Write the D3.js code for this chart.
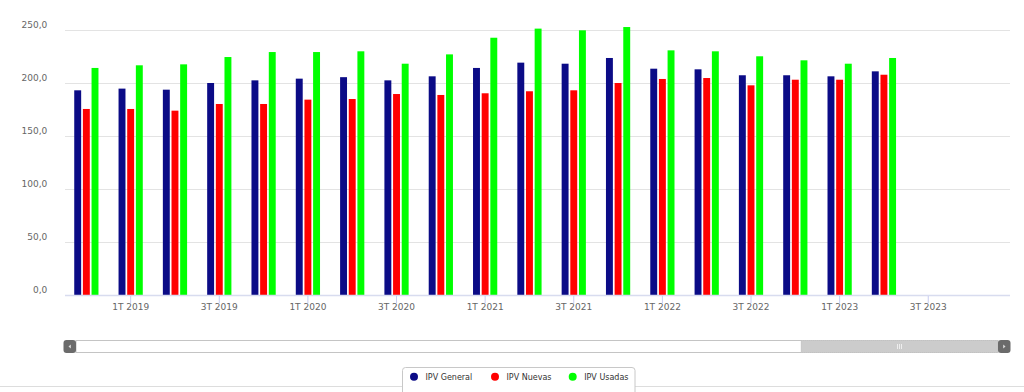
<!DOCTYPE html>
<html><head><meta charset="utf-8">
<script src="https://cdn.jsdelivr.net/npm/d3@7"></script>
<style>html,body{margin:0;padding:0;background:#fff;}svg{display:block;}</style>
</head><body>
<svg id="chart" width="1024" height="392"></svg>
<script>
const categories = ["4T 2018","1T 2019","2T 2019","3T 2019","4T 2019","1T 2020","2T 2020","3T 2020","4T 2020","1T 2021","2T 2021","3T 2021","4T 2021","1T 2022","2T 2022","3T 2022","4T 2022","1T 2023","2T 2023","3T 2023"];
const ipvGeneral = [193.1,194.7,193.7,200.0,202.5,204.1,205.5,202.5,206.3,214.2,219.2,218.2,223.6,213.5,212.9,207.3,207.3,206.3,211.0];
const ipvNuevas  = [175.5,175.5,173.9,180.2,180.2,184.3,184.9,189.6,188.7,190.3,192.2,193.1,200.0,203.8,204.7,197.8,203.1,203.1,207.8];
const ipvUsadas  = [214.2,216.7,217.6,224.5,229.2,229.2,229.9,218.2,227.0,242.7,251.3,249.7,252.8,230.8,229.9,225.2,221.4,218.2,223.6];
const seriesNames = ["IPV General","IPV Nuevas","IPV Usadas"];
const seriesColors = ["#0b0b86","#ff0000","#00ff00"];
const yTicks = [0,50,100,150,200,250];
const xTickLabels = ["1T 2019","3T 2019","1T 2020","3T 2020","1T 2021","3T 2021","1T 2022","3T 2022","1T 2023","3T 2023"];

const seriesData = [ipvGeneral, ipvNuevas, ipvUsadas];
const svg = d3.select("#chart");
const font = "'DejaVu Sans', Verdana, sans-serif";

const plotLeft = 65, plotRight = 1010, plotTop = 30, plotBottom = 295;
const bandStep = 44.31, bandStart = 64.2;

const y = d3.scaleLinear().domain([0,250]).range([plotBottom, plotTop]);
const x0 = d3.scaleBand().domain(categories).range([bandStart, bandStart + bandStep*categories.length]).padding(0);
const x1 = d3.scaleBand().domain(seriesNames).range([x0.bandwidth()*0.207, x0.bandwidth()*0.793]).paddingInner(0.2).paddingOuter(0.1);

// gridlines
svg.append("g").selectAll("line").data(yTicks.filter(d=>d>0)).join("line")
  .attr("x1", plotLeft).attr("x2", plotRight)
  .attr("y1", d=>Math.round(y(d))+0.5).attr("y2", d=>Math.round(y(d))+0.5)
  .attr("stroke", "#e3e3e3").attr("stroke-width", 1);

// y labels
const fmt = d3.format(".1f");
svg.append("g").selectAll("text").data(yTicks).join("text")
  .attr("x", 47.3).attr("y", d=>y(d)-1.7)
  .attr("text-anchor","end")
  .attr("font-family", font).attr("font-size", 9).attr("fill", "#666")
  .text(d=>fmt(d).replace(".", ","));

// bars
const groups = svg.append("g").selectAll("g").data(categories.slice(0, ipvGeneral.length)).join("g")
  .attr("transform", d=>`translate(${x0(d)},0)`);
groups.selectAll("rect").data((d,i)=>seriesNames.map((s,j)=>({s, v: seriesData[j][i], c: seriesColors[j]}))).join("rect")
  .attr("x", d=>x1(d.s)).attr("width", x1.bandwidth())
  .attr("y", d=>y(d.v)).attr("height", d=>y(0)-y(d.v))
  .attr("fill", d=>d.c);

// x axis line
svg.append("line").attr("x1", plotLeft).attr("x2", plotRight)
  .attr("y1", plotBottom+0.5).attr("y2", plotBottom+0.5)
  .attr("stroke", "#d8dcef").attr("stroke-width", 1.5);

// ticks and labels
const xt = svg.append("g");
xt.selectAll("line").data(xTickLabels).join("line")
  .attr("x1", d=>x0(d)+x0.bandwidth()/2).attr("x2", d=>x0(d)+x0.bandwidth()/2)
  .attr("y1", plotBottom+1).attr("y2", plotBottom+8)
  .attr("stroke", "#c8ccf0").attr("stroke-width", 1);
xt.selectAll("text").data(xTickLabels).join("text")
  .attr("x", d=>x0(d)+x0.bandwidth()/2).attr("y", 310)
  .attr("text-anchor","middle")
  .attr("font-family", font).attr("font-size", 9).attr("fill", "#666")
  .text(d=>d);

// scrollbar
const sb = svg.append("g");
sb.append("rect").attr("x", 76).attr("y", 340.5).attr("width", 922).attr("height", 12)
  .attr("fill", "#fff").attr("stroke", "#c4c4c4").attr("stroke-width", 1);
sb.append("rect").attr("x", 801).attr("y", 340.5).attr("width", 197).attr("height", 12)
  .attr("fill", "#cccccc").attr("stroke", "#bdbdbd").attr("stroke-width", 0.6).attr("stroke-dasharray","1,1");
[-2,0,2].forEach(o=>{
  sb.append("line").attr("x1", 899.5+o).attr("x2", 899.5+o).attr("y1", 344).attr("y2", 349)
    .attr("stroke", "#eeeeee").attr("stroke-width", 1);
});
sb.append("rect").attr("x", 63.5).attr("y", 340).attr("width", 12.5).attr("height", 13).attr("rx", 3)
  .attr("fill", "#6b6b6b");
sb.append("rect").attr("x", 998).attr("y", 340).attr("width", 12.5).attr("height", 13).attr("rx", 3)
  .attr("fill", "#6b6b6b");
sb.append("path").attr("d", "M70.8,344.5 L68.5,346.5 L70.8,348.5 Z").attr("fill", "#ddd");
sb.append("path").attr("d", "M1003.2,344.5 L1005.5,346.5 L1003.2,348.5 Z").attr("fill", "#ddd");

// bottom separator line
svg.append("line").attr("x1", 0).attr("x2", 1024).attr("y1", 386.5).attr("y2", 386.5)
  .attr("stroke", "#dddddd").attr("stroke-width", 1);

// legend
const lg = svg.append("g");
lg.append("rect").attr("x", 402.5).attr("y", 367.5).attr("width", 232.5).attr("height", 40).attr("rx", 3)
  .attr("fill", "#fff").attr("stroke", "#c8c8c8").attr("stroke-width", 1);
const legendX = [414, 495, 572.7];
seriesNames.forEach((s,i)=>{
  lg.append("circle").attr("cx", legendX[i]).attr("cy", 376.8).attr("r", 4).attr("fill", seriesColors[i]);
  lg.append("text").attr("x", legendX[i]+11.5).attr("y", 379.6)
    .attr("font-family", font).attr("font-size", 8).attr("fill", "#333").text(s);
});
</script>
</body></html>
